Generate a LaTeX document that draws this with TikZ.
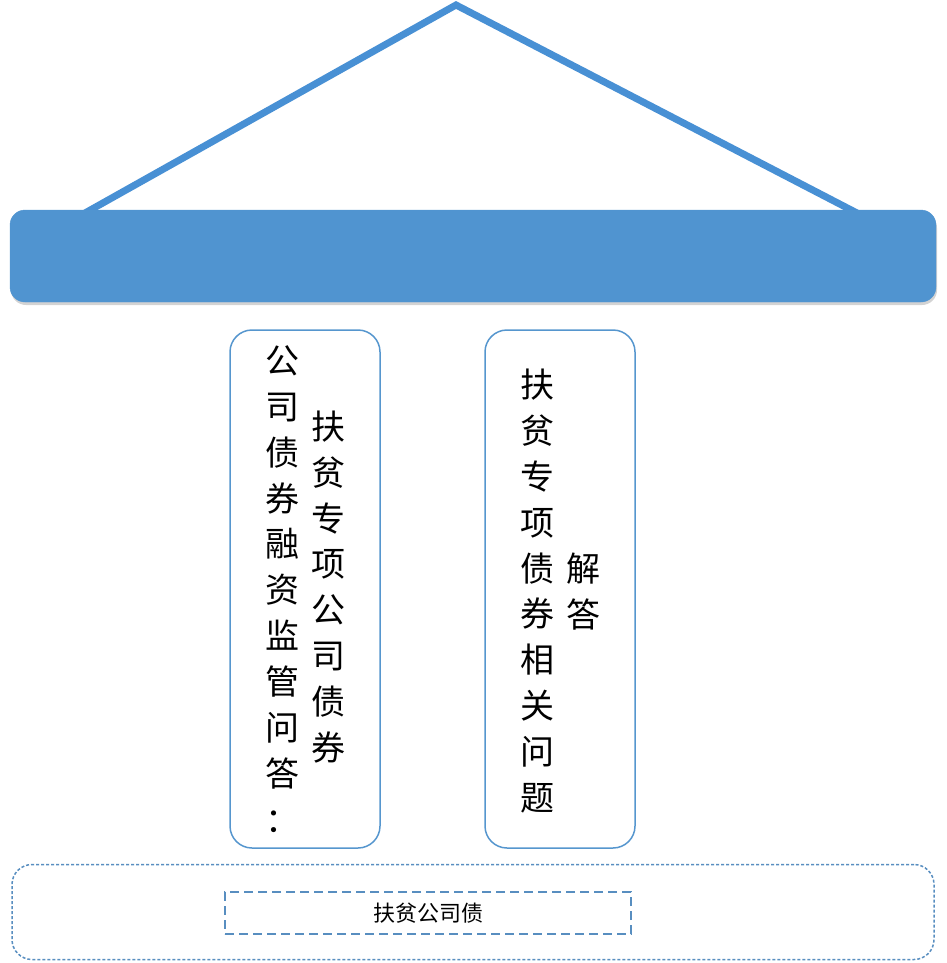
\documentclass[tikz,border=0pt]{standalone}
\usepackage{fontspec}
\setmainfont{Noto Sans CJK SC}
\usetikzlibrary{shadows}

\definecolor{roofblue}{RGB}{72,144,212}
\definecolor{bannerblue}{RGB}{80,148,208}
\definecolor{pillaredge}{RGB}{86,150,206}
\definecolor{dashblue}{RGB}{88,142,192}

\begin{document}
\begin{tikzpicture}[
  x=1pt, y=-1pt,
  banner/.style={rectangle, rounded corners=15pt, fill=bannerblue, draw=bannerblue,
    minimum width=926pt, minimum height=92pt,
    drop shadow={opacity=0.35, shadow xshift=1pt, shadow yshift=-3pt}},
  pillar/.style={rectangle, draw=pillaredge, line width=1.5pt, rounded corners=22pt,
    minimum width=150pt, minimum height=518pt},
  vtext/.style={align=center, inner sep=0pt, font=\fontsize{34}{45.9}\selectfont},
  roof/.style={draw=roofblue, line width=7pt},
  base/.style={rectangle, draw=dashblue, line width=1.5pt, dash pattern=on 3pt off 2pt,
    rounded corners=20pt, minimum width=922pt, minimum height=95pt},
  tag/.style={rectangle, draw=dashblue, line width=2pt, dash pattern=on 9pt off 5pt,
    minimum width=406pt, minimum height=42pt, font=\fontsize{22}{26}\selectfont}
]
\useasboundingbox (0,0) rectangle (946,963);

% roof
\coordinate (apex) at (456,5);
\coordinate (eaveL) at (85,213);
\coordinate (eaveR) at (857,213);
\draw[roof] (eaveL) -- (apex) -- (eaveR);

\node[banner] (banner) at (473,256) {};

% pillars
\node[pillar] (pillarL) at (305,589) {};
\node[pillar] (pillarR) at (560,589) {};

\node[vtext] (qaL) at (282,589) {公\\司\\债\\券\\融\\资\\监\\管\\问\\答\\：};
\node[vtext] (fpL) at (328,587) {扶\\贫\\专\\项\\公\\司\\债\\券};
\node[vtext] (qaR) at (537,591) {扶\\贫\\专\\项\\债\\券\\相\\关\\问\\题};
\node[vtext] (fpR) at (583,592) {解\\答};

% base
\node[base] (base) at (473,912) {};
\node[tag] (label) at (428,913) {扶贫公司债};
\end{tikzpicture}
\end{document}
